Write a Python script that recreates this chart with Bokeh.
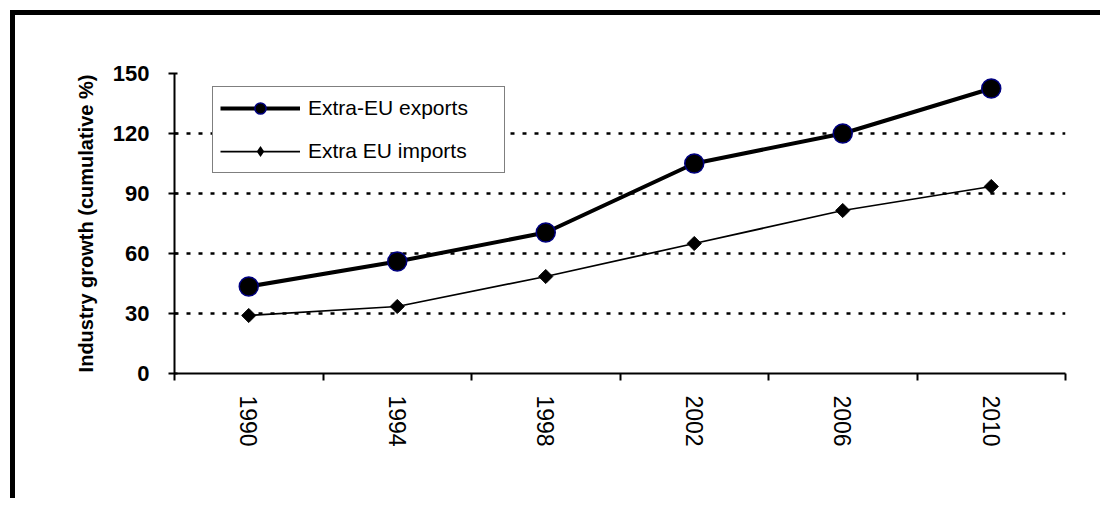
import numpy as np
from bokeh.plotting import figure
from bokeh.models import Range1d, FixedTicker, Legend, LegendItem
from bokeh.embed import file_html
from bokeh.resources import INLINE

years = ["1990", "1994", "1998", "2002", "2006", "2010"]
exports = [43.5, 56, 70.5, 105, 120, 142.5]
imports = [29, 33.5, 48.5, 65, 81.5, 93.5]
y_ticks = [0, 30, 60, 90, 120, 150]
y_title = "Industry growth (cumulative %)"
label_exports = "Extra-EU exports"
label_imports = "Extra EU imports"

xs = [i + 0.5 for i in range(len(years))]

FONT = "Liberation Sans"

p = figure(width=1090, height=488, output_backend="svg", toolbar_location=None,
           x_range=Range1d(0, len(years)), y_range=Range1d(0, 150),
           min_border_left=159, min_border_right=40, min_border_top=58, min_border_bottom=130)
p.styles = {"border-top": "5px solid black", "border-left": "5px solid black",
            "margin-left": "10px", "margin-top": "10px"}
p.outline_line_color = None
p.background_fill_color = "white"
p.border_fill_color = "white"

# x axis
xa = p.xaxis[0]
xa.ticker = FixedTicker(ticks=xs, minor_ticks=list(range(len(years) + 1)))
xa.major_label_overrides = {x: y for x, y in zip(xs, years)}
xa.major_label_orientation = "vertical"
xa.major_tick_in = 0
xa.major_tick_out = 0
xa.major_tick_line_color = None
xa.minor_tick_in = 0
xa.minor_tick_out = 7
xa.minor_tick_line_width = 2
xa.minor_tick_line_color = "black"
xa.axis_line_width = 2
xa.axis_line_color = "black"
xa.major_label_standoff = 15
xa.major_label_text_font = FONT
xa.major_label_text_font_size = "23px"
xa.major_label_text_color = "black"

# y axis
ya = p.yaxis[0]
ya.ticker = FixedTicker(ticks=y_ticks)
ya.major_tick_in = 3
ya.major_tick_out = 6
ya.major_tick_line_width = 2
ya.major_tick_line_color = "black"
ya.axis_line_width = 2
ya.axis_line_color = "black"
ya.major_label_standoff = 19
ya.major_label_text_font = FONT
ya.major_label_text_font_size = "22px"
ya.major_label_text_font_style = "bold"
ya.major_label_text_color = "black"
ya.axis_label = y_title
ya.axis_label_text_font = FONT
ya.axis_label_text_font_size = "20px"
ya.axis_label_text_font_style = "bold"
ya.axis_label_text_color = "black"
ya.axis_label_standoff = 13

p.xgrid.grid_line_color = None
p.ygrid.grid_line_color = "black"
p.ygrid.grid_line_width = 2.5
p.ygrid.grid_line_dash = "4 8"

# series
l1 = p.line(xs, exports, line_color="black", line_width=4)
s1 = p.scatter(xs, exports, marker="circle", size=19, fill_color="black",
               line_color="#000080", line_width=1.5)
l2 = p.line(xs, imports, line_color="black", line_width=1.75)
s2 = p.scatter(xs, imports, marker="square", size=10, angle=np.pi / 4,
               fill_color="black", line_color="black", line_width=1)
# legend-only diamond glyph (zero size on the plot, the legend sizes it itself)
s2_leg = p.scatter(xs, imports, marker="diamond", size=0, fill_color="black",
                   line_color=None)

legend = Legend(items=[LegendItem(label=label_exports, renderers=[l1, s1]),
                       LegendItem(label=label_imports, renderers=[l2, s2_leg])],
                location=(38, 200), padding=7, spacing=15,
                glyph_width=80, glyph_height=28, label_height=28, label_width=189,
                label_standoff=8, label_text_font=FONT, label_text_font_size="21px",
                label_text_color="black", border_line_color="black", border_line_width=1.5,
                background_fill_color="white", background_fill_alpha=1.0, margin=0)
p.add_layout(legend, "center")

open("out.html", "w").write(file_html(p, INLINE))
